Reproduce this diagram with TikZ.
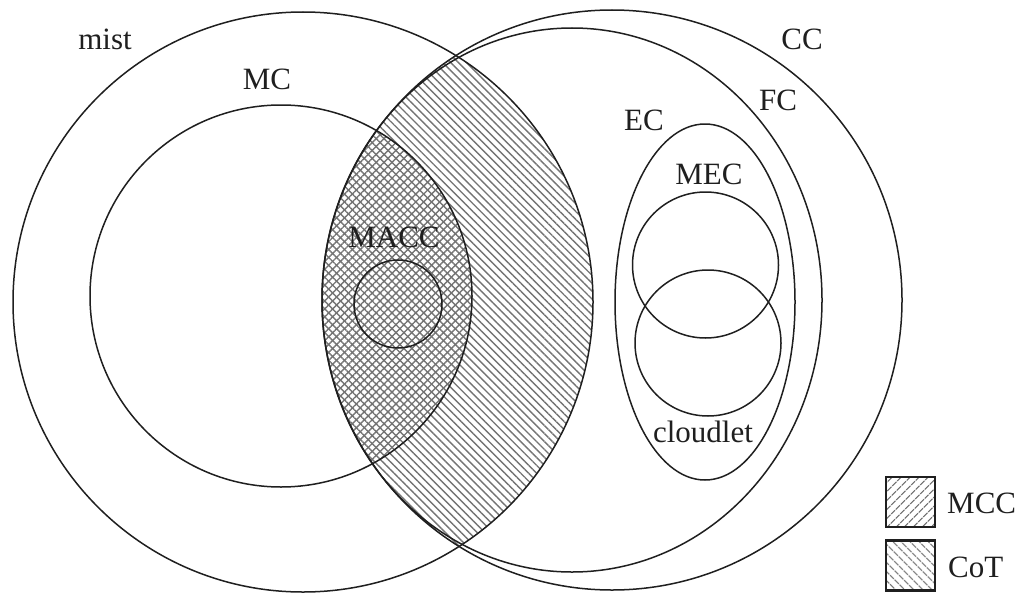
\documentclass[tikz,border=0pt]{standalone}
\usepackage{fontspec}
\setmainfont{Liberation Serif}
\usetikzlibrary{patterns.meta}
\tikzset{
  outline/.style={draw=black!88, line width=1.5pt},
  lbl/.style={font=\fontsize{31}{36}\selectfont, inner sep=0pt, text=black!88, anchor=base},
  cot/.style={pattern={Lines[angle=-45,distance=5.6pt,line width=1.4pt]}, pattern color=black!55},
  mcc/.style={pattern={Lines[angle=45,distance=5.6pt,line width=1.4pt]}, pattern color=black!55},
  legbox/.style={draw=black!88, line width=2.4pt, minimum width=49pt, minimum height=50pt, inner sep=0pt},
}
\begin{document}
\begin{tikzpicture}[x=1pt,y=-1pt]
\useasboundingbox (0,0) rectangle (1019,594);

% hatched overlaps: cloud with mist, and cloud with mobile computing
\begin{scope}
  \clip (612,300) circle[radius=290];
  \fill[cot] (303,302) circle[radius=290];
  \fill[mcc] (281,296) circle[radius=191];
\end{scope}

% outlines
\draw[outline] (303,302) circle[radius=290];                 % mist
\draw[outline] (281,296) circle[radius=191];                 % MC
\draw[outline] (612,300) circle[radius=290];                 % CC
\draw[outline] (572,300) ellipse[x radius=250, y radius=272]; % FC
\draw[outline] (705,302) ellipse[x radius=90, y radius=178];  % EC
\draw[outline] (705.5,265) circle[radius=73];                % MEC
\draw[outline] (708,343) circle[radius=73];                  % cloudlet
\draw[outline] (398,304) circle[radius=44];                  % MACC

% labels
\node[lbl] (lmist) at (105,50) {mist};
\node[lbl] (lmc) at (267,89) {MC};
\node[lbl] (lmacc) at (394,247) {MACC};
\node[lbl] (lcc) at (802,50) {CC};
\node[lbl] (lfc) at (778,110) {FC};
\node[lbl] (lec) at (644,130) {EC};
\node[lbl] (lmec) at (709,184) {MEC};
\node[lbl] (lcloudlet) at (703,442) {cloudlet};

% legend
\node[legbox, pattern={Lines[angle=45,distance=6.5pt,line width=1.3pt]}, pattern color=black!55] (kmcc) at (910.5,502) {};
\node[legbox, pattern={Lines[angle=-45,distance=6.5pt,line width=1.3pt]}, pattern color=black!55] (kcot) at (910.5,565.5) {};
\node[lbl, anchor=base west] (tmcc) at (947,513) {MCC};
\node[lbl, anchor=base west] (tcot) at (948,577) {CoT};
\end{tikzpicture}
\end{document}
